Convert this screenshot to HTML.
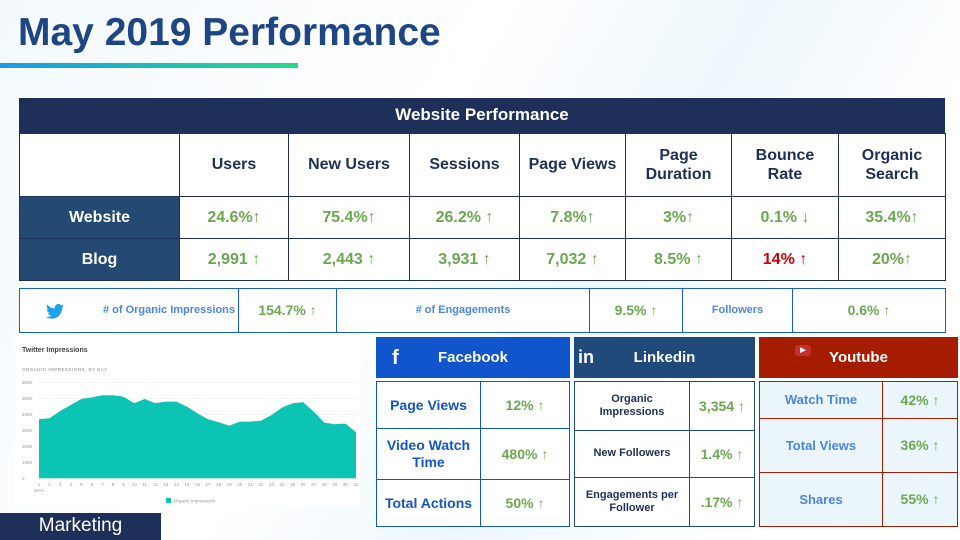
<!DOCTYPE html>
<html><head><meta charset="utf-8">
<style>
*{margin:0;padding:0;box-sizing:border-box}
body{width:960px;height:540px;overflow:hidden;font-family:"Liberation Sans",Arial,sans-serif;background:linear-gradient(120deg,#f3f9fd 0%,#ffffff 40%,#eef7fc 60%,#ffffff 80%);position:relative}
.a{position:absolute}
.c{position:absolute;display:flex;align-items:center;justify-content:center;text-align:center;font-weight:bold;line-height:1.2}
.g{color:#6aa84f}
</style></head><body>
<div class="a" style="left:18px;top:11px;font-size:39px;font-weight:bold;color:#1e4584;white-space:nowrap">May 2019 Performance</div>
<div class="a" style="left:0;top:63px;width:298px;height:5px;background:linear-gradient(90deg,#1a9be6,#26d98a)"></div>

<div id="wp"></div>
<div id="tw"></div>

<svg class="a" style="left:0;top:335px" width="370" height="175" id="chart"></svg>

<div class="c" style="left:0;top:513px;width:161px;height:27px;background:#1e2f59;color:#fff;font-weight:normal;font-size:19px">Marketing</div>

<div id="soc"></div>

<script>
function cell(parent,x,y,w,h,html,style,name){
  const d=document.createElement('div');
  d.className='c';
  d.style.cssText=`left:${x}px;top:${y}px;width:${w}px;height:${h}px;`+style;
  d.innerHTML=html;
  
  
  parent.appendChild(d);
}
// Website performance table
const wp=document.getElementById('wp');
const cx=[19,179,288,409,519,625,731,838,945];
const ry=[133,196,238,280];
const heads=['','Users','New Users','Sessions','Page Views','Page<br>Duration','Bounce<br>Rate','Organic<br>Search'];
const webVals=['24.6%↑','75.4%↑','26.2% ↑','7.8%↑','3%↑','0.1% ↓','35.4%↑'];
const blogVals=['2,991 ↑','2,443 ↑','3,931 ↑','7,032 ↑','8.5% ↑','14% ↑','20%↑'];
cell(wp,19,98,926,35,'Website Performance','background:#1e2f59;color:#fff;font-size:17px','table-title');
const bd='border:1px solid #1e2f59;';
for(let i=0;i<8;i++){
  cell(wp,cx[i],ry[0],cx[i+1]-cx[i]+1,ry[1]-ry[0]+1,heads[i],bd+'background:#fff;color:#1e2f59;font-size:16px','column-header');
}
cell(wp,19,ry[1],161,43,'Website',bd+'background:#244a74;color:#fff;font-size:16px','row-header-website');
cell(wp,19,ry[2],161,43,'Blog',bd+'background:#244a74;color:#fff;font-size:16px','row-header-blog');
for(let i=0;i<7;i++){
  cell(wp,cx[i+1],ry[1],cx[i+2]-cx[i+1]+1,43,webVals[i],bd+'background:#fff;color:#6aa84f;font-size:16px','website-value');
  cell(wp,cx[i+1],ry[2],cx[i+2]-cx[i+1]+1,43,blogVals[i],bd+'background:#fff;font-size:16px;color:'+(i===5?'#cc0000':'#6aa84f'),'blog-value');
}
// Twitter row
const tw=document.getElementById('tw');
const tx=[19,238,336,589,682,792,945];
const bird='<svg style="position:absolute;left:26px;top:15px" width="18" height="15" viewBox="0 0 24 20"><path fill="#1da1f2" d="M24 2.4c-.9.4-1.8.7-2.8.8 1-.6 1.8-1.6 2.2-2.7-1 .6-2 1-3.1 1.2C19.4.7 18.1 0 16.6 0c-2.7 0-4.9 2.2-4.9 4.9 0 .4 0 .8.1 1.1C7.7 5.8 4.1 3.9 1.7.9c-.4.7-.7 1.6-.7 2.5 0 1.7.9 3.2 2.2 4.1-.8 0-1.6-.2-2.2-.6v.1c0 2.4 1.7 4.4 3.9 4.8-.4.1-.8.2-1.3.2-.3 0-.6 0-.9-.1.6 2 2.4 3.4 4.6 3.4-1.7 1.3-3.8 2.1-6.1 2.1-.4 0-.8 0-1.2-.1 2.2 1.4 4.8 2.2 7.5 2.2 9.1 0 14-7.5 14-14v-.6c1-.7 1.8-1.6 2.5-2.5z"/></svg><span style="margin-left:80px"># of Organic Impressions</span>';
const tt=[bird,'154.7% ↑','# of Engagements','9.5% ↑','Followers','0.6% ↑'];
for(let i=0;i<6;i++){
  const val=i%2===1;
  cell(tw,tx[i],288,tx[i+1]-tx[i]+1,45,tt[i],'border:1px solid #1a5ce0;background:#fff;font-size:'+(val?'14px':'11px')+';color:'+(val?'#6aa84f':'#4a86e8'),val?'twitter-value':'twitter-label');
}
// Social tables
const soc=document.getElementById('soc');
function social(x0,x1,x2,rows,hdrColor,hdrText,icon,border,bg,labels,vals,lblColor,lblSize,name){
  cell(soc,x0,337,x2-x0,41,icon+hdrText,'background:'+hdrColor+';color:#fff;font-size:15px',name+'-header');
  for(let r=0;r<3;r++){
    const y=rows[r],h=rows[r+1]-rows[r]+1;
    cell(soc,x0,y,x1-x0+1,h,labels[r],'border:1px solid '+border+';background:'+bg+';color:'+lblColor+';font-size:'+lblSize+'px;padding:0 6px',name+'-label');
    cell(soc,x1,y,x2-x1,h,vals[r],'border:1px solid '+border+';background:'+bg+';color:#6aa84f;font-size:14px',name+'-value');
  }
}
social(376,480,570,[381,428,479,526],'#1155cc','Facebook','<span style="position:absolute;left:16px;font-size:20px">f</span>','#1155cc','#fff',['Page Views','Video Watch<br>Time','Total Actions'],['12% ↑','480% ↑','50% ↑'],'#1155cc',14,'facebook');
social(574,689,755,[381,430,477,526],'#1f4a7a','Linkedin','<span style="position:absolute;left:4px;font-size:18px">in</span>','#1f4a7a','#fff',['Organic<br>Impressions','New Followers','Engagements per<br>Follower'],['3,354 ↑','1.4% ↑','.17% ↑'],'#1e2f59',11,'linkedin');
social(759,882,958,[381,418,472,526],'#a61c00','Youtube','<span style="position:absolute;left:36px;top:8px;width:16px;height:11px;background:#c4302b;border-radius:3px;font-size:7px;line-height:11px">▶</span>','#a61c00','#eaf6fc',['Watch Time','Total Views','Shares'],['42% ↑','36% ↑','55% ↑'],'#4a86e8',13,'youtube');

// Chart
const days=[1,2,3,4,5,6,7,8,9,10,11,12,13,14,15,16,17,18,19,20,21,22,23,24,25,26,27,28,29,30,31];
const impressions=[369,375,421,458,496,506,519,519,510,469,496,469,479,479,448,406,369,350,329,354,354,360,396,442,469,475,417,348,338,342,288];
const yTicks=[0,100,200,300,400,500,600];
const yTickLabels=['0','100K','200K','300K','400K','500K','600K'];
const svg=document.getElementById('chart');
const NS='http://www.w3.org/2000/svg';
const X=d=>39+(d-1)*(356-39)/30;
const Y=v=>143.3-v*(96/600);
function el(tag,attrs,txt){const e=document.createElementNS(NS,tag);for(const k in attrs)e.setAttribute(k,attrs[k]);if(txt!==undefined)e.textContent=txt;svg.appendChild(e);return e;}
const bg=el('rect',{x:15,y:0,width:345,height:172,fill:'#fff'});


const t1=el('text',{x:22,y:17,'font-size':7,'font-weight':'bold',fill:'#444','font-family':'Liberation Sans'},'Twitter Impressions');


const t2=el('text',{x:22,y:36,'font-size':4.5,fill:'#888','font-family':'Liberation Sans','letter-spacing':'0.5'},'ORGANIC IMPRESSIONS, BY DAY');


yTicks.forEach((v,i)=>{
  const gl=el('line',{x1:38,x2:357,y1:Y(v),y2:Y(v),stroke:'#eee','stroke-width':0.6});
  
  
  const lb=el('text',{x:22,y:Y(v)+1.5,'font-size':4.5,fill:'#999','font-family':'Liberation Sans'},yTickLabels[i]);
  
  
});
let d='M'+X(days[0])+','+Y(0);
days.forEach((dd,i)=>{d+=' L'+X(dd).toFixed(2)+','+Y(impressions[i]).toFixed(2);});
d+=' L'+X(days[days.length-1])+','+Y(0)+' Z';
const area=el('path',{d:d,fill:'#0bc4b4','stroke-linejoin':'round'});


days.forEach(dd=>{
  const lb=el('text',{x:X(dd),y:151,'font-size':4.5,fill:'#999','text-anchor':'middle','font-family':'Liberation Sans'},String(dd));
  
  
});
const may=el('text',{x:39,y:157,'font-size':4.5,fill:'#999','text-anchor':'middle','font-family':'Liberation Sans'},'MAY');


const lsw=el('rect',{x:166,y:163,width:5,height:5,fill:'#0bc4b4'});


const ltx=el('text',{x:174,y:167.5,'font-size':4.5,fill:'#999','font-family':'Liberation Sans'},'Organic Impressions');


</script>
</body></html>
